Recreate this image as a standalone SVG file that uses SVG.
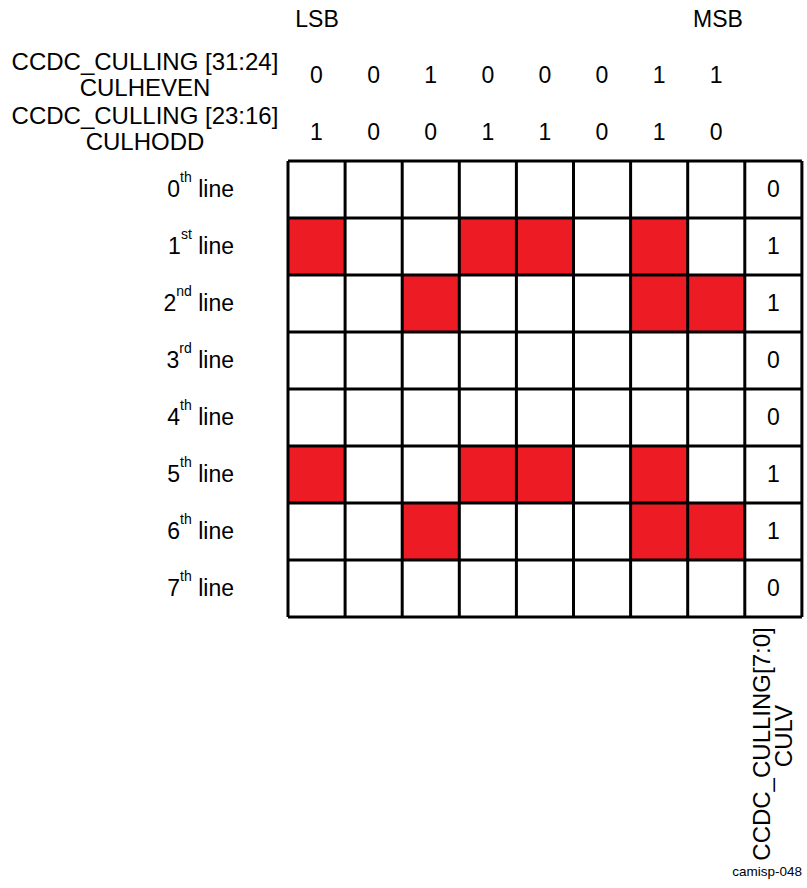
<svg xmlns="http://www.w3.org/2000/svg" width="807" height="888" viewBox="0 0 807 888">
<style>
text{font-family:"Liberation Sans",Arial,sans-serif;font-size:23px;fill:#000}
.c{text-anchor:middle}
.e{text-anchor:end}
.big{font-size:24px}
.sup{font-size:14px}
.red{fill:#ED1C24}
.g{stroke:#000;stroke-width:3;fill:none}
.small{font-size:13.5px}
</style>
<rect width="807" height="888" fill="#fff"/>
<g id="header">
<text class="c" x="317" y="27">LSB</text>
<text class="c" x="718" y="27">MSB</text>
<text class="c big" x="145" y="70">CCDC_CULLING [31:24]</text>
<text class="c big" x="145" y="96">CULHEVEN</text>
<text class="c big" x="145" y="124">CCDC_CULLING [23:16]</text>
<text class="c big" x="145" y="150">CULHODD</text>
</g>
<g id="even-bits">
<text class="c" x="316.5" y="83">0</text>
<text class="c" x="373.6" y="83">0</text>
<text class="c" x="430.7" y="83">1</text>
<text class="c" x="487.8" y="83">0</text>
<text class="c" x="544.9" y="83">0</text>
<text class="c" x="602" y="83">0</text>
<text class="c" x="659.1" y="83">1</text>
<text class="c" x="716.2" y="83">1</text>
</g>
<g id="odd-bits">
<text class="c" x="316.5" y="140">1</text>
<text class="c" x="373.6" y="140">0</text>
<text class="c" x="430.7" y="140">0</text>
<text class="c" x="487.8" y="140">1</text>
<text class="c" x="544.9" y="140">1</text>
<text class="c" x="602" y="140">0</text>
<text class="c" x="659.1" y="140">1</text>
<text class="c" x="716.2" y="140">0</text>
</g>
<g id="row-labels">
<text class="e" x="234" y="197">0<tspan class="sup" dy="-15">th</tspan><tspan dy="15"> line</tspan></text>
<text class="e" x="234" y="254">1<tspan class="sup" dy="-15">st</tspan><tspan dy="15"> line</tspan></text>
<text class="e" x="234" y="311">2<tspan class="sup" dy="-15">nd</tspan><tspan dy="15"> line</tspan></text>
<text class="e" x="234" y="368">3<tspan class="sup" dy="-15">rd</tspan><tspan dy="15"> line</tspan></text>
<text class="e" x="234" y="425">4<tspan class="sup" dy="-15">th</tspan><tspan dy="15"> line</tspan></text>
<text class="e" x="234" y="482">5<tspan class="sup" dy="-15">th</tspan><tspan dy="15"> line</tspan></text>
<text class="e" x="234" y="539">6<tspan class="sup" dy="-15">th</tspan><tspan dy="15"> line</tspan></text>
<text class="e" x="234" y="596">7<tspan class="sup" dy="-15">th</tspan><tspan dy="15"> line</tspan></text>
</g>
<g id="red-cells">
<rect class="red" x="288" y="218" width="57.1" height="57"/>
<rect class="red" x="459.3" y="218" width="57.1" height="57"/>
<rect class="red" x="516.4" y="218" width="57.1" height="57"/>
<rect class="red" x="630.6" y="218" width="57.1" height="57"/>
<rect class="red" x="402.2" y="275" width="57.1" height="57"/>
<rect class="red" x="630.6" y="275" width="57.1" height="57"/>
<rect class="red" x="687.7" y="275" width="57.1" height="57"/>
<rect class="red" x="288" y="446" width="57.1" height="57"/>
<rect class="red" x="459.3" y="446" width="57.1" height="57"/>
<rect class="red" x="516.4" y="446" width="57.1" height="57"/>
<rect class="red" x="630.6" y="446" width="57.1" height="57"/>
<rect class="red" x="402.2" y="503" width="57.1" height="57"/>
<rect class="red" x="630.6" y="503" width="57.1" height="57"/>
<rect class="red" x="687.7" y="503" width="57.1" height="57"/>
</g>
<g id="grid">
<path class="g" d="M288,161V617M345.1,161V617M402.2,161V617M459.3,161V617M516.4,161V617M573.5,161V617M630.6,161V617M687.7,161V617M744.8,161V617M801.9,161V617"/>
<path class="g" d="M288,161H801.9M288,218H801.9M288,275H801.9M288,332H801.9M288,389H801.9M288,446H801.9M288,503H801.9M288,560H801.9M288,617H801.9"/>
</g>
<g id="culv-values">
<text class="c" x="773.4" y="197">0</text>
<text class="c" x="773.4" y="254">1</text>
<text class="c" x="773.4" y="311">1</text>
<text class="c" x="773.4" y="368">0</text>
<text class="c" x="773.4" y="425">0</text>
<text class="c" x="773.4" y="482">1</text>
<text class="c" x="773.4" y="539">1</text>
<text class="c" x="773.4" y="596">0</text>
</g>
<g id="culv-label">
<text class="c big" transform="translate(770,744) rotate(-90)">CCDC_CULLING[7:0]</text>
<text class="c big" transform="translate(792,736) rotate(-90)">CULV</text>
</g>
<text class="small" x="802" y="876" text-anchor="end">camisp-048</text>
</svg>
